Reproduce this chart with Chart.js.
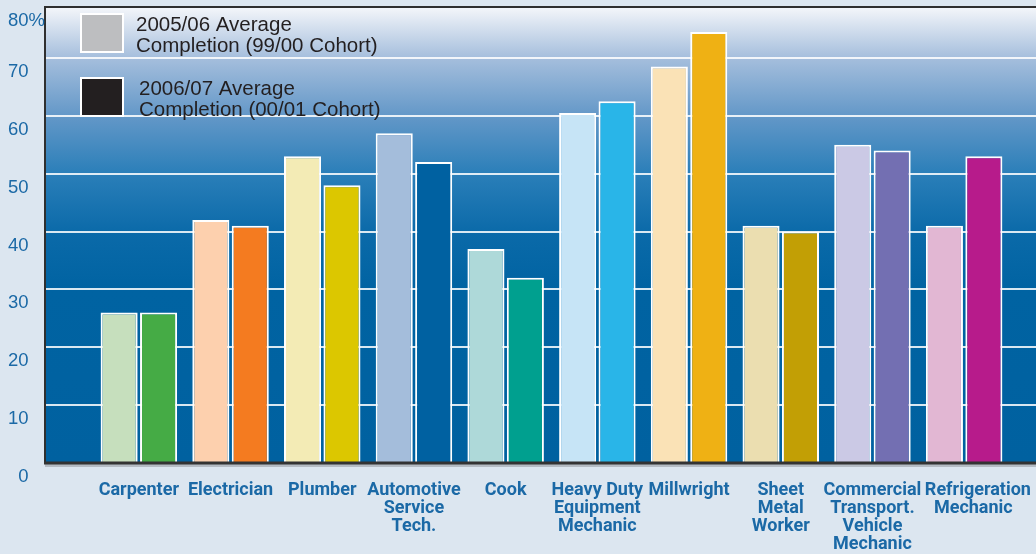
<!DOCTYPE html>
<html>
<head>
<meta charset="utf-8">
<title>Average Completion by Trade</title>
<style>
  html, body { margin: 0; padding: 0; background: #dce6f0; }
  #wrap { position: relative; width: 1036px; height: 554px; overflow: hidden; }
</style>
<script src="https://cdn.jsdelivr.net/npm/chart.js@4.4.1/dist/chart.umd.min.js"></script>
</head>
<body>
<div id="wrap"><canvas id="chart" width="1036" height="554"></canvas></div>
<script>
// trades along the x axis (multi-line labels as arrays)
// the last one is nudged right with en spaces so it clears "Commercial"
const categories = [
  'Carpenter', 'Electrician', 'Plumber', ['Automotive', 'Service', 'Tech.'], 'Cook',
  ['Heavy Duty', 'Equipment', 'Mechanic'], 'Millwright', ['Sheet', 'Metal', 'Worker'],
  ['Commercial', 'Transport.', 'Vehicle', 'Mechanic'],
  ['\u2002\u2002\u2002Refrigeration', '\u2002\u2002Mechanic']
];

// average completion, %
const completion0506 = [26, 42, 53, 57, 37, 60.5, 68.5, 41, 55, 41];
const completion0607 = [26, 41, 48, 52, 32, 62.5, 74.5, 40, 54, 53];

// each trade has its own pair of colours (light = 05/06, dark = 06/07)
const lightColors = ['#c6dfbd', '#fdd0ae', '#f3ebb5', '#a4bddb', '#aed9d9',
                     '#c6e4f6', '#fae2b6', '#ebdeb0', '#cbc9e5', '#e2b7d3'];
const darkColors  = ['#45ab45', '#f47b20', '#dcc700', '#0061a1', '#00a08f',
                     '#29b5e8', '#efb114', '#c29f05', '#736fb2', '#b71b8b'];

const seriesLabels = [
  ['2005/06 Average', 'Completion (99/00 Cohort)'],
  ['2006/07 Average', 'Completion (00/01 Cohort)']
];
const legendColors = ['#bdbec0', '#231f20'];

// y axis: plot top sits just under the 80 line
const yMax = 78.8;
const yTickValues = [0, 10, 20, 30, 40, 50, 60, 70, yMax];
const yTickLabels = ['\u20070', '10', '20', '30', '40', '50', '60', '70', '80%'];

const labelBlue = '#1b69a6';

// panel background, white grid lines and frame
const panelPlugin = {
  id: 'panel',
  beforeDraw(chart) {
    const ctx = chart.ctx;
    const y = chart.scales.y;
    const top = chart.chartArea.top, bottom = chart.chartArea.bottom;
    const left = 45, right = chart.width;

    const g = ctx.createLinearGradient(0, top, 0, bottom);
    g.addColorStop(0, '#f4f6fa');
    g.addColorStop(0.11, '#a6bfdd');
    g.addColorStop(0.237, '#6498c8');
    g.addColorStop(0.364, '#2b7fb9');
    g.addColorStop(0.493, '#0b6aa9');
    g.addColorStop(0.62, '#0063a2');
    g.addColorStop(1, '#0061a0');
    ctx.save();
    ctx.fillStyle = g;
    ctx.fillRect(left, top, right - left, bottom - top);

    ctx.strokeStyle = 'rgba(255,255,255,0.85)';
    ctx.lineWidth = 2;
    yTickValues.forEach(v => {
      if (v === 0 || v === yMax) return;
      const py = Math.round(y.getPixelForValue(v));
      ctx.beginPath();
      ctx.moveTo(left, py);
      ctx.lineTo(right, py);
      ctx.stroke();
    });

    ctx.strokeStyle = '#2f2f2f';
    ctx.lineWidth = 2;
    ctx.beginPath();
    ctx.moveTo(right, top);
    ctx.lineTo(left, top);
    ctx.lineTo(left, bottom);
    ctx.stroke();
    ctx.restore();
  },
  afterDatasetsDraw(chart) {
    const ctx = chart.ctx;
    const bottom = chart.chartArea.bottom;
    ctx.save();
    // shadow + baseline
    ctx.fillStyle = 'rgba(60,60,60,0.25)';
    ctx.fillRect(45, bottom + 1, chart.width - 45, 3);
    ctx.strokeStyle = '#333333';
    ctx.lineWidth = 3;
    ctx.beginPath();
    ctx.moveTo(44, bottom);
    ctx.lineTo(chart.width, bottom);
    ctx.stroke();

    // legend
    const boxes = [{ x: 80, y: 13, tx: 136, ty: 31 }, { x: 80, y: 77, tx: 139, ty: 95 }];
    ctx.font = '20.5px "Liberation Sans", Arial, sans-serif';
    ctx.textBaseline = 'alphabetic';
    ctx.textAlign = 'left';
    boxes.forEach((b, i) => {
      ctx.fillStyle = legendColors[i];
      ctx.fillRect(b.x, b.y, 44, 40);
      ctx.strokeStyle = '#ffffff';
      ctx.lineWidth = 2;
      ctx.strokeRect(b.x + 1, b.y + 1, 42, 38);
      ctx.fillStyle = '#231f20';
      seriesLabels[i].forEach((line, j) => ctx.fillText(line, b.tx, b.ty + j * 20.5));
    });
    ctx.restore();
  }
};

new Chart(document.getElementById('chart'), {
  type: 'bar',
  data: {
    labels: categories,
    datasets: [
      {
        label: seriesLabels[0].join(' '),
        data: completion0506,
        backgroundColor: lightColors,
        borderColor: '#ffffff',
        borderWidth: 2
      },
      {
        label: seriesLabels[1].join(' '),
        data: completion0607,
        backgroundColor: darkColors,
        borderColor: '#ffffff',
        borderWidth: 2
      }
    ]
  },
  options: {
    responsive: false,
    animation: false,
    devicePixelRatio: 1,
    categoryPercentage: 0.86,
    barPercentage: 0.94,
    layout: { padding: { left: 8, right: 26, top: 7, bottom: 0 } },
    plugins: {
      legend: { display: false },
      tooltip: { enabled: false }
    },
    scales: {
      x: {
        grid: { display: false, drawTicks: false },
        border: { display: false },
        ticks: {
          color: labelBlue,
          font: { family: 'Roboto, "Liberation Sans", sans-serif', size: 18, weight: 'bold', lineHeight: 1.0 },
          padding: 18,
          maxRotation: 0,
          minRotation: 0,
          autoSkip: false
        },
        afterFit(scale) {
          scale.height = 91;
          scale.paddingLeft = 0;
          scale.paddingRight = 0;
        }
      },
      y: {
        min: 0,
        max: yMax,
        grid: { display: false, drawTicks: false },
        border: { display: false },
        afterBuildTicks(scale) {
          scale.ticks = yTickValues.map(v => ({ value: v }));
        },
        ticks: {
          color: labelBlue,
          font: { family: '"Liberation Sans", Arial, sans-serif', size: 18.5 },
          crossAlign: 'far',
          labelOffset: 14,
          autoSkip: false,
          callback: (v, i) => yTickLabels[i]
        },
        afterFit(scale) {
          scale.width = 85;
          scale.paddingTop = 0;
          scale.paddingBottom = 0;
        }
      }
    }
  },
  plugins: [panelPlugin]
});
</script>
</body>
</html>
